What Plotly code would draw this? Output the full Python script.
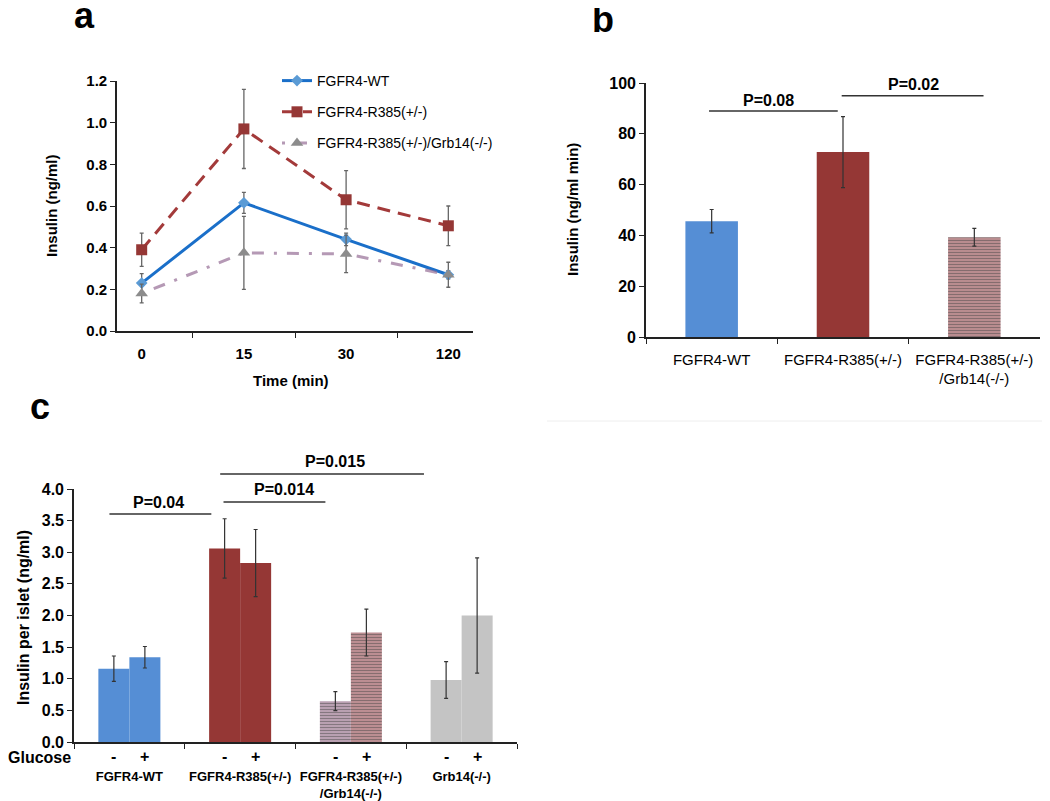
import plotly.graph_objects as go

# page body has an 8px margin; make the figure fit the 1050x801 window exactly
OFF = 8
W, H = 1050 - OFF, 801 - OFF
def X(px): return (px - OFF) / W
def Y(py): return 1 - (py - OFF) / H

# ---------------- data ----------------
# panel a
times = ["0", "15", "30", "120"]
wt_a = [0.23, 0.615, 0.44, 0.27]
wt_a_err = [0.045, 0.05, 0.03, 0.02]
r385_a = [0.39, 0.97, 0.63, 0.505]
r385_a_err = [0.08, 0.19, 0.14, 0.095]
grb_a = [0.18, 0.375, 0.37, 0.27]
grb_a_err = [0.045, 0.175, 0.09, 0.06]

# panel b
groups_b = ["FGFR4-WT", "FGFR4-R385(+/-)", "FGFR4-R385(+/-)/Grb14(-/-)"]
labels_b = ["FGFR4-WT", "FGFR4-R385(+/-)", "FGFR4-R385(+/-)<br>/Grb14(-/-)"]
auc_b = [45.6, 72.8, 39.3]
auc_b_err = [4.6, 14.0, 3.5]

# panel c
groups_c = ["FGFR4-WT", "FGFR4-R385(+/-)", "FGFR4-R385(+/-)/Grb14(-/-)", "Grb14(-/-)"]
labels_c = ["FGFR4-WT", "FGFR4-R385(+/-)", "FGFR4-R385(+/-)<br>/Grb14(-/-)", "Grb14(-/-)"]
glc_minus = [1.16, 3.06, 0.645, 0.98]
glc_minus_err = [0.20, 0.47, 0.15, 0.29]
glc_plus = [1.34, 2.83, 1.73, 2.00]
glc_plus_err = [0.17, 0.53, 0.37, 0.91]

BLUE = "#558ed5"
RED = "#953735"
FONT = "Liberation Sans, Arial, sans-serif"

fig = go.Figure()

# ---------------- panel a ----------------
ebar = dict(type="data", thickness=1.3, width=2, color="#666666")
fig.add_trace(go.Scatter(
    x=times, y=wt_a, error_y=dict(array=wt_a_err, **ebar),
    mode="lines+markers", name="FGFR4-WT", legendgroup="g1",
    line=dict(color="#1a6fc9", width=3),
    marker=dict(symbol="diamond", size=9, color="#5b9bd5"),
    xaxis="x", yaxis="y"))
fig.add_trace(go.Scatter(
    x=times, y=r385_a, error_y=dict(array=r385_a_err, **ebar),
    mode="lines+markers", name="FGFR4-R385(+/-)", legendgroup="g2",
    line=dict(color="#a33a3a", width=3, dash="13px,8px"),
    marker=dict(symbol="square", size=11, color=RED),
    xaxis="x", yaxis="y"))
fig.add_trace(go.Scatter(
    x=times, y=grb_a, error_y=dict(array=grb_a_err, **ebar),
    mode="lines+markers", name="FGFR4-R385(+/-)/Grb14(-/-)", legendgroup="g3",
    line=dict(color="rgba(150,110,150,0.7)", width=3, dash="3px,10px,12px,10px"),
    marker=dict(symbol="triangle-up", size=11, color="#8c8c8c"),
    xaxis="x", yaxis="y"))

# ---------------- panel b ----------------
fig.add_trace(go.Bar(
    x=groups_b, y=auc_b,
    error_y=dict(type="data", array=auc_b_err, thickness=1.2, width=2, color="#333333"),
    width=0.4, showlegend=False,
    marker=dict(color=[BLUE, RED, "#b98c8f"], line=dict(width=0),
                pattern=dict(shape=["", "", "-"], fgcolor="#c9a4a7", size=3, solidity=0.3)),
    xaxis="x2", yaxis="y2"))

# ---------------- panel c ----------------
fig.add_trace(go.Bar(
    x=groups_c, y=glc_minus, name="-",
    error_y=dict(type="data", array=glc_minus_err, thickness=1.2, width=2, color="#333333"),
    width=0.28, offset=-0.28, showlegend=False,
    marker=dict(color=[BLUE, RED, "#b9a0b1", "#c4c4c4"], line=dict(width=0),
                pattern=dict(shape=["", "", "-", ""], fgcolor="#c6aebf", size=3, solidity=0.3)),
    xaxis="x3", yaxis="y3"))
fig.add_trace(go.Bar(
    x=groups_c, y=glc_plus, name="+",
    error_y=dict(type="data", array=glc_plus_err, thickness=1.2, width=2, color="#333333"),
    width=0.28, offset=0.0, showlegend=False,
    marker=dict(color=[BLUE, RED, "#bb8e92", "#c4c4c4"], line=dict(width=0),
                pattern=dict(shape=["", "", "-", ""], fgcolor="#c9a0a3", size=3, solidity=0.3)),
    xaxis="x3", yaxis="y3"))

axis_common = dict(showline=True, linecolor="#222222", linewidth=1.6, showgrid=False,
                   zeroline=False, ticks="outside", ticklen=5, tickwidth=1.4,
                   tickcolor="#222222")

fig.update_layout(
    width=W, height=H, margin=dict(l=0, r=0, t=0, b=0, autoexpand=False),
    paper_bgcolor="white", plot_bgcolor="white",
    font=dict(family=FONT, color="black"),
    barmode="overlay",
    xaxis=dict(domain=[X(117), X(473)], anchor="y", type="category",
               tickson="boundaries", ticklabelstandoff=8, tickangle=0,
               tickfont=dict(size=15, family=FONT, weight="bold"), **axis_common),
    yaxis=dict(domain=[Y(331), Y(81)], anchor="x", range=[0, 1.2], dtick=0.2,
               tickformat=".1f", tickfont=dict(size=15, weight="bold"), **axis_common),
    xaxis2=dict(domain=[X(646), X(1040)], anchor="y2", type="category",
                tickson="boundaries", tickvals=groups_b, ticktext=labels_b, tickangle=0,
                ticklabelstandoff=8, tickfont=dict(size=15), **axis_common),
    yaxis2=dict(domain=[Y(337), Y(83)], anchor="x2", range=[0, 100], dtick=20,
                tickfont=dict(size=16, weight="bold"), **axis_common),
    xaxis3=dict(domain=[X(74), X(517)], anchor="y3", type="category",
                tickson="boundaries", tickvals=groups_c, ticktext=labels_c, tickangle=0,
                ticklabelstandoff=22, tickfont=dict(size=13, weight="bold"), **axis_common),
    yaxis3=dict(domain=[Y(742), Y(489)], anchor="x3", range=[0, 4.0], dtick=0.5,
                tickformat=".1f", tickfont=dict(size=16, weight="bold"), **axis_common),
    legend=dict(x=X(277), y=Y(65), xanchor="left", yanchor="top",
                font=dict(size=14), tracegroupgap=10, bgcolor="rgba(0,0,0,0)",
                itemwidth=30),
)

ann = []
def txt(s, x, y, size, rot=0, weight="bold", xref="paper", **kw):
    ann.append(dict(text=s, x=x, y=y, xref=xref, yref="paper", showarrow=False,
                    textangle=rot, font=dict(size=size, weight=weight, family=FONT),
                    xanchor="center", yanchor="middle", **kw))

# panel letters
txt("a", X(84), Y(16), 36)
txt("b", X(603), Y(20), 36)
txt("c", X(40), Y(406), 36)

# axis titles
txt("Insulin (ng/ml)", X(52), Y(206), 15, rot=-90)
txt("Time (min)", X(291), Y(380), 15)
txt("Insulin (ng/ml min)", X(572), Y(210), 15, rot=-90)
txt("Insulin per islet (ng/ml)", X(23), Y(618), 16, rot=-90)
txt("Glucose", X(39), Y(757), 16)

# glucose -/+ labels
for i in range(len(groups_c)):
    txt("-", i - 0.14, Y(756), 16, xref="x3")
    txt("+", i + 0.14, Y(756), 16, xref="x3")

# p-values
txt("P=0.08", X(768), Y(101), 16)
txt("P=0.02", X(913), Y(85), 16)
txt("P=0.04", X(158), Y(503), 16)
txt("P=0.014", X(284), Y(489), 16)
txt("P=0.015", X(335), Y(461), 16)

fig.update_layout(annotations=ann)

line = dict(color="#333333", width=1.5)
shapes = [
    dict(type="line", xref="x2", yref="y2", x0=-0.02, x1=0.96, y0=89, y1=89, line=line),
    dict(type="line", xref="x2", yref="y2", x0=0.99, x1=2.07, y0=95, y1=95, line=line),
    dict(type="line", xref="x3", yref="paper", x0=-0.18, x1=0.74, y0=Y(514), y1=Y(514), line=line),
    dict(type="line", xref="x3", yref="paper", x0=0.85, x1=1.77, y0=Y(502), y1=Y(502), line=line),
    dict(type="line", xref="x3", yref="paper", x0=0.82, x1=2.66, y0=Y(474), y1=Y(474), line=line),
    dict(type="line", xref="paper", yref="paper", x0=X(547), x1=1, y0=Y(421), y1=Y(421),
         line=dict(color="#eeeeee", width=1)),
]
fig.update_layout(shapes=shapes)

fig.write_html("out.html")
